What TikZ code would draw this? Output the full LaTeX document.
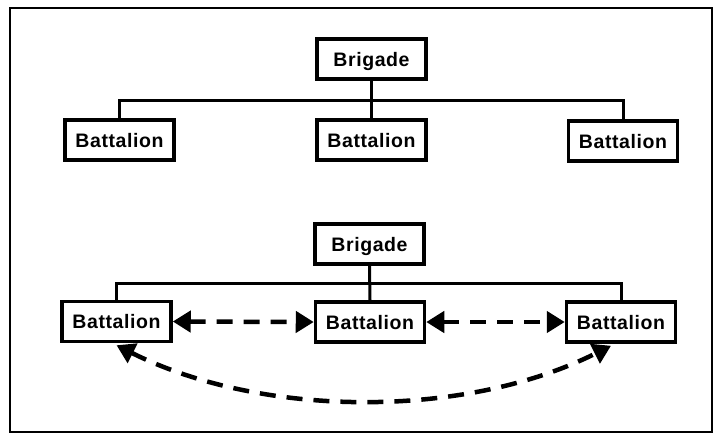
\documentclass[tikz,border=0pt]{standalone}
\usepackage{fontspec}
\newfontfamily\unitfont{Liberation Sans}[LetterSpace=3]
\usetikzlibrary{arrows.meta}
\begin{document}
\begin{tikzpicture}[x=1pt,y=-1pt,
  unit/.style={draw, line width=3.5pt, fill=white, minimum width=109pt, minimum height=40pt,
    inner sep=0pt, text height=14pt, text depth=0pt,
    font=\unitfont\bfseries\fontsize{19.5}{22}\selectfont},
  conn/.style={line width=3pt},
  link/.style={line width=4.5pt, dash pattern=on 16pt off 11pt,
    {Triangle[length=18pt,width=21pt]}-{Triangle[length=18pt,width=21pt]}},
  frame/.style={line width=1.5pt}
]
\useasboundingbox (0,0) rectangle (719,440);
\draw[frame] (10,8) rectangle (712,432);

% top chart
\node[unit] (b1) at (371.5,59) {Brigade};
\node[unit] (t1) at (119.5,140) {Battalion};
\node[unit] (t2) at (371.5,140) {Battalion};
\node[unit] (t3) at (623,141) {Battalion};
\coordinate (j1) at (371.5,100);
\draw[conn] (b1.south) -- (t2.north);
\draw[conn] (t1.north) |- (j1) -| (t3.north);

% bottom chart
\node[unit] (b2) at (369.5,244) {Brigade};
\node[unit] (l2) at (116.5,321.5) {Battalion};
\node[unit] (m2) at (370,322) {Battalion};
\node[unit] (r2) at (621,322) {Battalion};
\coordinate (j2) at (370,283);
\draw[conn] (b2.south) -- (m2.north);
\draw[conn] (l2.north) |- (j2) -| (r2.north);
\draw[link] (l2.east) -- (m2.west);
\draw[link] (m2.east) -- (r2.west);
\draw[link] ([yshift=-2pt]l2.south) .. controls +(146,73) and +(-146,73) .. ([xshift=-10pt,yshift=-2pt]r2.south);
\end{tikzpicture}
\end{document}
